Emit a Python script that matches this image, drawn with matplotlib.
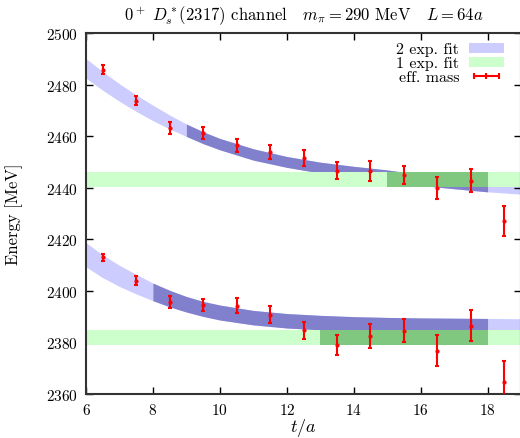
import matplotlib
matplotlib.use("Agg")
import matplotlib.pyplot as plt
from matplotlib.patches import Patch
from matplotlib.lines import Line2D
import numpy as np

plt.rcParams['font.family'] = ['cmr10', 'DejaVu Serif']
plt.rcParams['mathtext.fontset'] = 'cm'
plt.rcParams['axes.formatter.use_mathtext'] = True
plt.rcParams['axes.unicode_minus'] = False

# effective mass data
t_eff = [6.5, 7.5, 8.5, 9.5, 10.5, 11.5, 12.5, 13.5, 14.5, 15.5, 16.5, 17.5, 18.5]
upper_eff = [2485.8, 2473.8, 2463.2, 2461.3, 2456.4, 2453.9, 2451.7, 2446.6, 2446.4, 2445.1, 2439.9, 2442.7, 2427.2]
upper_err = [1.8, 1.8, 2.3, 2.4, 2.4, 2.8, 3.1, 3.4, 3.8, 3.5, 4.4, 4.5, 5.8]
lower_eff = [2413.0, 2404.0, 2395.8, 2394.5, 2394.3, 2390.8, 2384.8, 2379.0, 2382.4, 2384.6, 2376.8, 2386.5, 2364.8]
lower_err = [1.4, 1.8, 2.3, 2.4, 2.8, 3.3, 3.3, 4.0, 4.6, 4.6, 6.0, 5.9, 8.0]

# 2 exp. fit bands
t_band = [6.0, 6.5, 7.0, 7.5, 8.0, 8.5, 9.0, 9.5, 10.0, 11.0, 12.0, 13.0, 14.0, 15.0, 16.0, 17.0, 18.0, 19.0]
upper_band = [2486.3, 2481.4, 2476.9, 2472.8, 2469.0, 2465.5, 2462.3, 2459.4, 2456.9, 2452.9, 2450.0,
              2447.8, 2446.2, 2444.8, 2443.0, 2441.7, 2440.5, 2439.6]
upper_band_hw = [3.8, 3.6, 3.4, 3.2, 3.0, 2.7, 2.4, 2.3, 2.2, 2.2, 2.1, 2.1, 2.1, 2.1, 2.1, 2.1, 2.1, 2.1]
lower_band = [2414.0, 2409.5, 2405.8, 2402.6, 2399.6, 2397.0, 2394.8, 2393.0, 2391.6, 2389.6, 2388.4,
              2387.7, 2387.2, 2386.9, 2386.7, 2386.6, 2386.5, 2386.4]
lower_band_hw = [4.7, 4.4, 4.1, 3.8, 3.4, 3.2, 3.0, 2.9, 2.9, 2.8, 2.8, 2.8, 2.8, 2.8, 2.8, 2.8, 2.8, 2.8]
upper_fit_range = (9, 18)
lower_fit_range = (8, 18)

# 1 exp. fit plateaus
upper_plateau = 2443.2
upper_plateau_hw = 2.8
upper_plateau_range = (15, 18)
lower_plateau = 2381.9
lower_plateau_hw = 2.9
lower_plateau_range = (13, 18)

LB = '#ccccff'
DB = '#8080cc'
LG = '#ccffcc'
DG = '#80c880'

fig = plt.figure(figsize=(5.2, 4.39), dpi=100)
ax = fig.add_axes([86/520, 1 - 395/439, (521 - 86)/520, (395 - 34)/439])

xlim = (6, 19)

def band(center, hw, frange):
    tb = np.array(t_band)
    c = np.array(center)
    h = np.array(hw)
    ax.fill_between(tb, c - h, c + h, color=LB, lw=0, zorder=1)
    m = (tb >= frange[0]) & (tb <= frange[1])
    ax.fill_between(tb[m], (c - h)[m], (c + h)[m], color=DB, lw=0, zorder=1.1)

def plateau(val, hw, prange):
    ax.fill_between(xlim, val - hw, val + hw, color=LG, lw=0, zorder=2)
    ax.fill_between(prange, val - hw, val + hw, color=DG, lw=0, zorder=2.1)

band(upper_band, upper_band_hw, upper_fit_range)
band(lower_band, lower_band_hw, lower_fit_range)
plateau(upper_plateau, upper_plateau_hw, upper_plateau_range)
plateau(lower_plateau, lower_plateau_hw, lower_plateau_range)

for y, e in [(upper_eff, upper_err), (lower_eff, lower_err)]:
    ax.errorbar(t_eff, y, yerr=e, fmt='o', color='red', ms=2, elinewidth=1.5,
                capsize=1.5, capthick=1.5, zorder=5)

ax.set_xlim(*xlim)
ax.set_ylim(2360, 2500)
ax.set_xticks([6, 8, 10, 12, 14, 16, 18])
ax.set_yticks(np.arange(2360, 2501, 20))
ax.tick_params(direction='in', top=True, right=True, length=5, width=1, labelsize=11, pad=6)
for s in ax.spines.values():
    s.set_linewidth(1.5)
    s.set_color('#333333')

ax.set_xlabel('$t/a$', fontsize=13, labelpad=-1)
ax.set_ylabel('Energy [MeV]', fontsize=12, labelpad=16)
ax.set_title(r'$0^+\ D_s^*(2317)$ channel   $m_\pi = 290$ MeV   $L = 64a$', fontsize=12, pad=10)

handles = [Patch(facecolor=LB, edgecolor='none'),
           Patch(facecolor=LG, edgecolor='none'),
           Line2D([0], [0], color='red', lw=1.5, marker='|', ms=4, mew=1.5)]
labels = ['2 exp. fit', '1 exp. fit', 'eff. mass']
leg = ax.legend(handles, labels, loc='upper right', markerfirst=False, frameon=False,
                fontsize=11.5, numpoints=3, handlelength=2.2, handleheight=0.55,
                borderaxespad=0.0, borderpad=0.0, labelspacing=0.0, handletextpad=0.6,
                bbox_to_anchor=(0.961, 0.974))
for txt in leg.get_texts():
    txt.set_ha('right')

fig.savefig('out.png', dpi=100)
